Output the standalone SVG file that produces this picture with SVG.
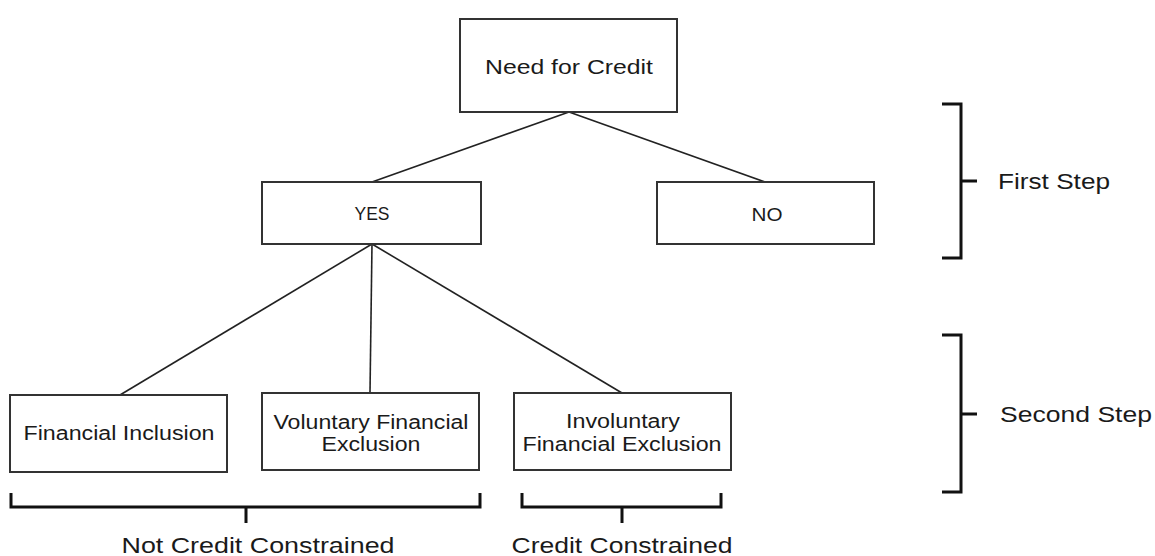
<svg xmlns="http://www.w3.org/2000/svg" width="1155" height="556" viewBox="0 0 1155 556">
<style>
.box{fill:#fff;stroke:#333;stroke-width:2}
.t{font-family:"Liberation Sans",Arial,sans-serif;fill:#1a1a1a;text-anchor:middle}
.conn line{stroke:#222;stroke-width:1.6}
.br{fill:none;stroke:#111;stroke-width:3}
</style>
<rect width="1155" height="556" fill="#fff"/>
<g id="connectors" class="conn">
<line x1="569" y1="112" x2="372" y2="182"/>
<line x1="569" y1="112" x2="765" y2="182"/>
<line x1="372" y1="244" x2="120" y2="395"/>
<line x1="372" y1="244" x2="370" y2="393"/>
<line x1="372" y1="244" x2="622" y2="393"/>
</g>
<g id="need">
<rect class="box" x="460" y="19" width="217" height="93"/>
<text class="t" x="569" y="74" font-size="21" textLength="168" lengthAdjust="spacingAndGlyphs">Need for Credit</text>
</g>
<g id="yes">
<rect class="box" x="262" y="182" width="219" height="62"/>
<text class="t" x="372" y="220" font-size="18" textLength="35" lengthAdjust="spacingAndGlyphs">YES</text>
</g>
<g id="no">
<rect class="box" x="657" y="182" width="217" height="62"/>
<text class="t" x="767" y="221" font-size="18" textLength="31" lengthAdjust="spacingAndGlyphs">NO</text>
</g>
<g id="inclusion">
<rect class="box" x="10" y="395" width="217" height="77"/>
<text class="t" x="119" y="440" font-size="19.5" textLength="191" lengthAdjust="spacingAndGlyphs">Financial Inclusion</text>
</g>
<g id="voluntary">
<rect class="box" x="262" y="393" width="217" height="77"/>
<text class="t" x="371" y="429" font-size="19.5" textLength="195" lengthAdjust="spacingAndGlyphs">Voluntary Financial</text>
<text class="t" x="371" y="451" font-size="19.5" textLength="99" lengthAdjust="spacingAndGlyphs">Exclusion</text>
</g>
<g id="involuntary">
<rect class="box" x="514" y="393" width="217" height="77"/>
<text class="t" x="623" y="428" font-size="19.5" textLength="114" lengthAdjust="spacingAndGlyphs">Involuntary</text>
<text class="t" x="622" y="451" font-size="19.5" textLength="199" lengthAdjust="spacingAndGlyphs">Financial Exclusion</text>
</g>
<g id="first-step">
<path class="br" d="M942 104 H961 V258 H942 M961 181 H977"/>
<text class="t" x="998" y="189" font-size="22.5" textLength="112" lengthAdjust="spacingAndGlyphs" style="text-anchor:start">First Step</text>
</g>
<g id="second-step">
<path class="br" d="M942 335 H961 V492 H942 M961 414 H977"/>
<text class="t" x="1000" y="422" font-size="22.5" textLength="152" lengthAdjust="spacingAndGlyphs" style="text-anchor:start">Second Step</text>
</g>
<g id="not-credit-constrained">
<path class="br" d="M11 493 V507 H480 V493 M246 507 V523"/>
<text class="t" x="258" y="553" font-size="22" textLength="273" lengthAdjust="spacingAndGlyphs">Not Credit Constrained</text>
</g>
<g id="credit-constrained">
<path class="br" d="M522 493 V507 H721 V493 M622 507 V523"/>
<text class="t" x="622" y="553" font-size="22" textLength="221" lengthAdjust="spacingAndGlyphs">Credit Constrained</text>
</g>
</svg>
